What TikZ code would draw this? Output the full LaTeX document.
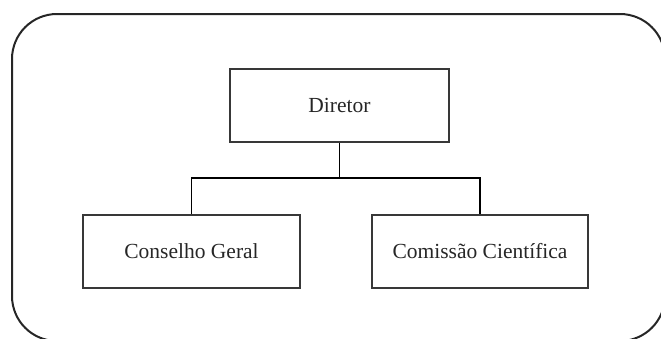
\documentclass[tikz,border=0pt]{standalone}
\usepackage{fontspec}
\setmainfont{Liberation Serif}
\begin{document}
\begin{tikzpicture}[x=1pt,y=-1pt,
  orgbox/.style={draw=black!78, line width=1.4pt, rectangle,
    minimum height=73pt, inner sep=0pt,
    font=\fontsize{21.5}{26}\selectfont, text=black!85},
  link/.style={draw=black, line width=1.5pt}]
  \useasboundingbox (0,0) rectangle (661,338);
  \clip (0,0) rectangle (661,338);
  % frame around the chart
  \draw[black!85, line width=2pt, rounded corners=45pt] (12,14) rectangle (665,341);
  % positions
  \node[orgbox, minimum width=219pt] (dir) at (339.5,105.5) {Diretor};
  \node[orgbox, minimum width=217pt] (cg) at (191.5,251.5) {Conselho Geral};
  \node[orgbox, minimum width=216pt] (cc) at (480,251.5) {Comissão Científica};
  \coordinate (bus) at (339.5,178);
  % connectors
  \draw[link] (dir.south) -- (bus);
  \draw[link] (cg.north) |- (bus) -| (cc.north);
\end{tikzpicture}
\end{document}
